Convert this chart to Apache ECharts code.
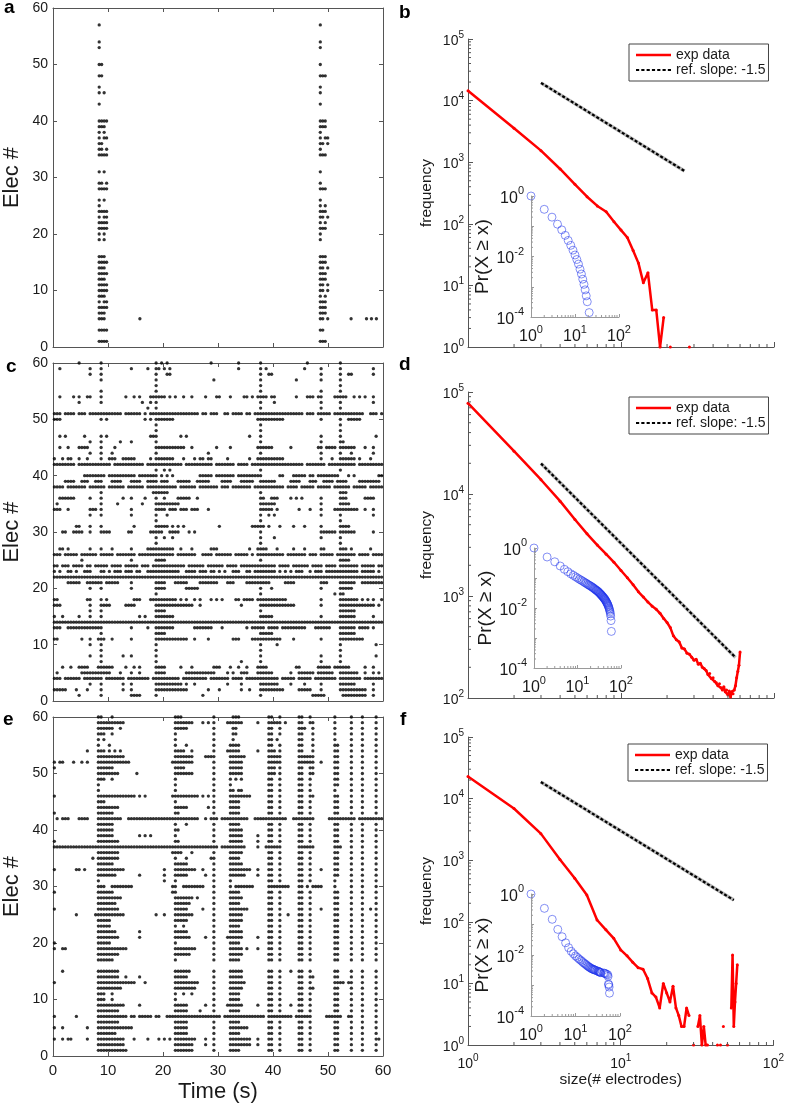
<!DOCTYPE html>
<html><head><meta charset="utf-8">
<script src="https://cdn.jsdelivr.net/npm/echarts@6/dist/echarts.min.js"></script>
<style>html,body{margin:0;padding:0;background:#fff}#chart{width:787px;height:1108px}</style>
</head><body><div id="chart"></div>
<script>
// ================= DATA =================
const timeTicks = [0, 10, 20, 30, 40, 50, 60];
const rasterBinSec = 0.5; // each character of a raster row = one 0.5 s bin (120 bins = 60 s)

// Panel a: two bursts; each row gives which of the 4 burst spike slots fire
const rasterABurstTimes = [[8.4, 8.85, 9.3, 9.75], [48.6, 49.05, 49.5, 49.95]];
const rasterARows = [
  [57,'#...','#...'],[54,'#...','#...'],[53,'#...','#...'],[50,'##..','#...'],[48,'##..','###.'],
  [46,'#...','#...'],[45,'#.#.','#...'],[43,'#...','#...'],[40,'####','###.'],[39,'###.','###.'],
  [38,'#.#.','#...'],[37,'#.##','#.##'],[36,'##..','##.#'],[35,'##.#','#...'],[34,'####','###.'],
  [31,'#.#.','#...'],[29,'##.#','#...'],[28,'####','###.'],[26,'#.#.','#...'],[25,'#...','#.#.'],
  [24,'####','###.'],[23,'#.##','##.#'],[22,'####','#.#.'],[21,'####','###.'],[20,'#.#.','#...'],
  [19,'#.#.','#...'],[16,'###.','###.'],[15,'####','###.'],[14,'###.','##.#'],[13,'####','###.'],
  [12,'###.','###.'],[11,'####','##.#'],[10,'####','##.#'],[9,'###.','#.#.'],[8,'#.##','###.'],
  [7,'####','###.'],[6,'###.','###.'],[5,'###.','##.#'],[3,'####','##..'],[1,'####','###.']
];
const rasterAExtra = [[15.8,5],[54.2,5],[57.0,5],[57.9,5],[58.8,5]];

// Panel c: rows from electrode 60 (first) down to electrode 1 (last)
const rasterC = [
".........# .......#.. .......... .......#.# .#........ .......#.. .......#.. .....#.... .......... ..#....... ....#..... ..........",
"..#....... ...#...#.. ........#. ....#..##. #.#....... .......... .......#.. .....#.#.. .......... .#.....#.. ....#..... ......#...",
".......... ...#...#.. .......... .......#.. .##....... .......... .......... .....#..## .......... .......#.. ....#..##. ......#...",
".......... .......#.. .......... .......#.. .......... ........#. .......... .....#.... ........#. .......#.. ....#..... ..........",
".......... .......... .......... .......#.. .......... .......... .......... .....#.... .......... .......... ....#..... ..........",
".......... .......#.. .......... .......#.. .......... .......... .......... .....#.... .......... .......#.. ....#..... ..........",
"..#....#.# ..##...#.. ......#..# .#...##### #.#.#..#.. #....#...# #...#....# #.#.####.# #.......#. ..###.##.. ..#####..# .#.#..#...",
".........# .......#.. .......... ..#..#.#.. .......... .......... .......... .....#.... #......... .......#.. ....#..... ......#...",
".......... .......... .......... ....#..#.. .......... .......... .......... .....#.... .......... .......#.. ....#..... ..........",
"###.####.# ##.####### #####.#### ##.#.##### ########## ###.##.### ..##.####. ##.####### ########## #.###.#### #.######## ###..###.#",
"###....... .......#.# .......... ...#.#.### ####...... .......... .......... ....###### ####...... .......#.. ....#..### ##........",
".......... .......... .......... .......#.. .......... .......... .......... .....#.... .......... .......... ....#..... ..........",
".......... .......... .......... .......#.. .......... .......... .......... .....#.... .......... .......... ....#..... ..........",
"..#.#..... .#.....#.# .......... .....###.. ......#.#. .......... .......... .#...#.... .......... .......#.. ....#..... .......#..",
".......... ...#...#.. ....#...#. .......#.. .......... .......... .......... .....#.... .......... .......#.. ....##.... ..........",
"..#..#...# ###....#.. ..#....... .......### ########.. #........# ....#..... ....###### ......#... ......##.# ###.###### ...#..#...",
".......... ...#...#.. .#........ .......#.. .......... ......#... .......... .....#.... .......... .......#.. ....#...#. ......#...",
"#..#.##..# ..#....#.. ###..##### .....#.### ####...#.. .#.##.##.. ...#...... .#..###### ####...... .......#.. .#..###### .#...#....",
"########.# ########## #.######## ###.###### #######.## ########.# ######.### #.######## ########## #.#######. ########## .#########",
".......... .......... .......... .......#.. #.#....... .......... .......... .....#.... .......... .......... ....#..... ..........",
".......... .########. ########## .#######.# .#.#...... ...#####.# ######.### ######.... ..##...### ##.##.#### ####...#.# ........##",
"....####.. ###..###.. .####...## ##..####.# ##...##### ..#####... .####...## ###..##### #.....#### ...###..## ##.####... .########.",
"####.##### ##.######. ######.### ###.###### #####.#### ##.####### .###.##### ##.####### ####.####. #####.#### #.######.# ####.#####",
".......... .......#.. .......... ......#### ##........ .......... .......... .....#.... .......... .......... ....###... ..........",
"..######.. ...#...#.. .....#..#. ...#...#.. #....##### ..#....... .......... .....##..# ##....#.#. #......#.. ....###... ...####...",
".#........ .......#.. ...#...... ..#....### ######.... .......... .......... .....##### #......... .......#.. ....####.. ..........",
"###..#.... ...###.#.. ........#. .......### #.###.###. ###...#... .......... .....##### .#.......# ...#...#.. ..######## #..#..#...",
".......... ...#...#.. ........#. .......#.. .#........ .......... .......... .....#..#. #......... .......#.. ....#..... ......#...",
".......... .......... .......... .......#.. .......... .......... .......... .....#.... .......... .......... ....#..... ..........",
"........## ...#...#.. .........# .......### ##.#.#.#.. .......... #......... ..#####.#. ..#....#.. .#.....#.. ....####.. ..........",
"...##..### #..#...### #......##. .....##### ..####...# .#........ .......... .....#.... .......... .......### ###.###### ......#...",
".......... .......... .......... .......#.. #..#...... .......... .......... .....#.... #......... .......#.. ....#..... ..........",
".......... .......... .......... .......#.. .......... .......... .......... .....#.... .......... .......... ....#..... ..........",
"..##.#.... ...#...#.. .#......#. ....###### ####..#... #......### .......... .#..####.. .#.....#.. .#.....##. ....###.#. .....#....",
"###.#####. ######.### ##.####### .######### ####.##### ##..####.# #####.#### #.#.###### ####.##### ##.###.### ##.####### .####.####",
".......... #......... ........#. .......### #......... .......... .......... .....#.... .......... .......... ....####.. ..........",
"##.###.### #.##.##### .####.#### #.###.#### ########.# #####.#### ##.####.## ########## #.####.### ###.####.# ###.###### #.#####.##",
"#.#..##.#. .###...##. #.###.###. ##..###### ######..## ##.###.##. #.#..###.. ##.####### #.#.#.#.## #..#.###.# ########## #.#####.#.",
"########## ########## ########## ########## ########## ########## ########## ########## ########## ########## ########## ##########",
".....##### ..######.# ####....#. .......### #...#####. ...####### ...###.... #########. ....####.. .......### ....###### ..########",
".......... ...#...#.. ........#. .......### #.......## ###....... .......... .....#...# .......... .......#.. ....#####. ..........",
".......... .......... .......... .......#.. .......... .......... .......... .....#.... .......... .......... ..#.##.... ..........",
"##........ ..##...#.# .........# ##...##### #####.#.#. .#.#...#.# .#....##.# ###.###### #####..... .......#.. ....###### #.#.#.#..#",
"###....... ...#...### #.....#### .......### ########## #..#...... ........#. .....##### ########.. .......#.. ....###### #######.#.",
".......... ...#...#.. .......... .......### #......... .......... .......... .....#.... .......... .......... ....###### ..........",
"#..#.....# ...#...#.. .......... .#.#...### ####...... .......... .......... .....##### .......... .......#.. ....###### ......#...",
"########## ########## ########## ########## ########## ########## ########## ########## ########## ########## ########## ##########",
"###..##### ########.. ........#. ....#..### ####...... .#######.. .#........ #.#####.## ##.####### ##...##### #...###### .####.#...",
".......... .......#.. .......... .......### #......... .......... .......... .....##### .......... .......... ....###### ..........",
"##........ #..#..###. .#......#. .......### #########. .#....#... .....###.. ..######## ###....#.. .......#.. ....###### ###.......",
".......... ...#...#.. .......... .......#.. .......... .......... .......... .....#.... .#........ .......... ....#..... .......#..",
".......... .......#.. .......... .......#.. .......... .......... .......... .....#.... .......... .......... ....#..... ..........",
".......... ...#...#.. .....#..#. .......#.. .......... .......... .......... .....#.... .......... .......#.. ....#..... .......#..",
".......... .......#.. .......... .......#.. .......... .......... ........#. .....#.... .......... .......#.. ....#..... ..........",
"...#..#..# ###...#### ##....#..# .#.....### #.....#... #.......## #...#..#.. #...####.. ........## ......#### #.######.. ...#..#...",
".#........ ########## #...#...#. .#.....### #.......## #########. ...#.#..## #...###### ......#..# #####.#### ##..###### #..#..#.#.",
"###.###### .#######.# ######.### #####.#### ######.### ######.### ####.####. ########## ##.#####.# ####.##### ###.###### ##.#######",
".......... ...#...#.. .....#..#. .......### #######.#. .#........ ...#....#. .....##### ##....#... .#.....#.. ....###### ......#...",
"#####...#. ..#....#.. .....#..#. .......### #########. ......#... #.......#. .#...##### ####.....# ####...#.. ....###### ####..#...",
".........# .......#.. ........## ##.....#.. .......... ....#..... .......... .....#.... .......... ....#####. .....##### ####..#..."
];

// Panel e: rows from electrode 60 (first) down to electrode 1 (last)
const rasterE = [
".......... ......##.. .#........ .......... ....###... ........#. .....###.. ........## ..#......# #..#...... ..#.....#. ..#....#..",
".......... ......#### ######.... .......... ....###### #...#.#.#. ...######. ....#...## ###.#....# #..##..... ..#.....#. ..#....#..",
".......... ......#### ##..#..... .......... ....#####. ........#. .....##... ........## ..#......# ##..#..... ..#.....#. ..#....#..",
".......... ......###. .#........ .......... ....#..... ........#. .....##... ........## ..#......# #...#..... ..#.....#. ..#....#..",
".......... ......#.#. .......... .......... ....#..... ........#. .....#.... ........## .#.......# #...#..... ..#.....#. ..#....#..",
".......... ......#... #......... .......... ....#...#. ........#. ....####.. ........## ..#......# #...#..... ..##....#. ..#....#..",
".......... ..#...###. #.#.#..... .......... ....####.. #.......#. ...#####.. ....#...## #.#......# #...#..... ..##....#. ..#....#..",
".......... ......#### ######.... .......... ....###### #....####. ....###### ........## ###......# #####..... ..##....#. ..#....#..",
"#.##...#.. #.#...#### ########.. .......... ...####### #.......#. ....#####. ........## ###......# #####..#.. ..##....#. ..#....#..",
"#......... ......#### ##........ .......... ....####.. ........#. ....#####. ........## #.#......# #..##..... ..##....#. ..#....#..",
".......... ......#### ####...... #......... ....###### #.......#. ....#####. ........## #.#......# #..##..... ..##....#. ..#....#..",
".......... ......###. .#........ .......... ....#..... ........#. ....#.#.#. ........## ..#......# #..#...... ..##....#. ..#....#..",
".......... ......#... .......... .......... ....#..... ........#. ....#..... ........## ..#......# #..#...... ..##....#. ..#....#..",
".......... ......#... .......... .......... ....#..... ........#. ....##.##. ........## ..#......# #..#...... ..#.....#. ..#....#..",
"#......... ......#### ########## .#.#...... ...####### ###.#.#.#. ....###### ##......## ..#......# #..##..... ..##....#. ..#....#..",
".......... ......###. .......... .......... ....#..... ........#. ....####.. ........## ..#......# #..#...... ..##....#. ..#....#..",
".......... ......#### ####...... .......... ....#####. ......#.#. ....####.. ........## ..#......# #..#...... ..##....#. ..#....#..",
"#......... ......#### ##........ .......... ....##.... ........#. ....####.. ........## ..#......# #..#...... ..##....#. ..#....#..",
".#.###...# ###...#### #####..### ########## ########## ###..#.### .######### #..####### #####..### #####..... ########## .#########",
".......... ......#### ##........ .......... ....#...#. ........#. ....####.. ........## ..#......# #..#...... ..##....#. ..#....#..",
".......... ......#### ##........ .......... ....##.... ........#. ....#####. ........## ..#......# #..#...... ..##....#. ..#....#..",
".......... ......#### ##........ .#.#.#.... ....#..... ........#. ....#####. ....#...## ..#......# #..#...... ..##....#. ..#....#..",
"#......... ......#### ####...... .......... ....##.... ........#. ....#####. ....#...## ..#......# #..#...... ..##....#. ..#....#..",
"########## ########## ########## ########## ########## ########## .######### ....#..### ###......# #####..... ..###...#. ..#....#..",
".......... ......#### ####...... .......... ...####... #.......#. ....#####. ........## ..#......# #..#...... ..##....#. ..#....#..",
".......... ....#.#### ####...... .......... ....#...#. .......##. ....####.. ........## ..#......# #..#...... ..##....#. ..#....#..",
".......... ......#### ##........ .......... ....#####. ........#. ....#####. ........## ..#......# #..#...... ..##....#. ..#....#..",
"#.......## .#....#### ######.... .......... #...###### ##..#...#. ....###### ##..#...## ..#......# #..#...#.. ..##....#. ..#....#..",
".......... ......#### ###....... .#........ #...#####. .....#..#. ....###### ....#...## ..#......# #..#...... ..##....#. ..#....#..",
".......... ......#... .......... .......... #...#..... ........#. ....#..... ........## ..#......# #..#...... ..#.....#. ..#....#..",
".......... ......###. .########. .......... ...##..### #####...#. ....#.#### ###.....## ######...# #.#.####.. ..#.....#. ..#....#..",
"#......... ......#### ##........ .......... ...##..... ........#. ....####.. ........## ..#......# #..#...... ..##....#. ..#....#..",
".......... ......#### #####..... .......... ....###### #.#.....#. ....#####. ........## ..#......# #..#...... ..##....#. ..#....#..",
".......... ......#### ###....... .......... ....###### ........#. ....####.. ........## ..#......# #..#...... ..##....#. ..#....#..",
"#......... ......#### ####...... .......... ....#####. ....#...#. ....###### #.......## ..#......# #..#...#.. ..##....#. ..#..#.#..",
"........#. .....##### ######.... .......#.. #...###### #.......#. ....#####. ........## ..#..#...# #..#...... ..##....#. ..#....#..",
".......... ......#### #......... .......... ....#####. ........#. ....#####. ........## ..#......# #..#...... ..##....#. ..#....#..",
".......... ......#### #......... .......... ....#..#.. ........#. ....####.. ........## ..#......# #..#...... ..##....#. ..#....#..",
".......... ......#### ###....... .#........ ....#####. ........#. ....#####. ........## ..#......# #..#...... ..##....#. ..#....#..",
".......... ......#### ####...... .#........ ....###### .....#..#. ...######. ....#...## ..#......# #..#...... ..##....#. ..#....#..",
"#......... ......#### #......... .......... ....#..... ........#. ....####.. ........## ..#......# #..#...... ..##....#. ..#....#..",
"#..##..... ......#### #######... .......... ....###### ##......#. ....#####. #...#...## ..#......# #..#...... ..##....#. ..#....#..",
".......... ......#### ####...... .......... ....###### ........#. ....#####. ........## ..#......# #..#...... ..##....#. ..#....#..",
".......... ......#### ##........ .......... ....#..... ........#. ....####.. ........## ..#......# #..#...... ..##....#. ..#....#..",
".......... .......... .......... .......... .......... .......... .......... .......... .......... .......... .......... ..........",
"...#...... ......#### ####...... .......... ....###### ........#. ....#####. ........## ..#...#..# #..#...... ..##....#. ..#....#..",
".......... ......#### ####..#... .#........ ....#####. ........#. ....#####. ........## ..#......# #..##..... ..##....#. ..#....#..",
"#......... ......#### ########## ...#...... ....###### ###.....#. ....###### ........## ..#......# #..#...... ..####.##. ..#....#..",
".......... ......#### #####..... .......... ....###### ##......#. ....#####. ........## ..#......# #..##..... ..##....#. ..#....#..",
".......... ......###. .#........ .......... ....#..#.. #.......#. ....####.. ........## ..#......# #..#...... ..##....#. ..#....#..",
".......... ......###. .#........ .......... ....#..... ........#. ....####.. ........## ..#......# #..#...... ..##....#. ..#....#..",
".......... ......#### ######.... .#........ ....#####. .....#..#. ...######. ....#...## ..#...#..# #..#...... ..##....#. ..#....#..",
".......... ......#### ####...... .......... ....#####. ...#....#. ....####.. ........## ..#......# #..#...... ..##....#. ..#....#..",
"#.......#. ......#### #######.## .#####.##. .######### ########## #.######## #######.## #######.## ####.....# #####..##. ..#....#..",
".......... ......#### ####...... .......... ....#####. ........#. ....####.. ........## ..#......# #..#...... ..##....#. ..#....#..",
"#..#...... ..#...#### #########. .......... ....#####. ........#. ....###### #.......## ..#......# #..#...... ..##....#. ..#....#..",
".......... ......#### ###....... .......... ....#####. ........#. ....####.. ........## ..#......# #..#...... ..##....#. ..#....#..",
"#..#.##... ..#...#### ######...# ....#...#. #.#.###### ##...#..#. ....###### ##..#...## ..#......# #..#...... ..##....#. ..#....##.",
".......... ......#### ######.... .......... ....###### #....#..#. ....###### ##..#...## ..#......# #..#...... ..##....#. ..#....#..",
".......... ......#### #######... .......... ....###### #.......#. ....####.. ........## ..#......# #..#...... ..##....#. ..#....#.."
];

// Avalanche size distributions (size = # electrodes, frequency = count); null = zero count
const sizeB = [1,2,3,4,5,6,7,8,9,10,11,12,13,14,15,16,17,18,19,20,21,22,23,24,25,26,27,28];
const freqB = [14500,3550,1540,776,437,275,195,157,108,79,60,37,23,11,16,4,4,1,3,null,1,null,null,null,null,null,null,1];

const sizeD = [1,2,3,4,5,6,7,8,9,10,11,12,13,14,15,16,17,18,19,20,21,22,23,24,25,26,27,28,29,30,
               31,32,33,34,35,36,37,38,39,40,41,42,43,44,45,46,47,48,49,50,51,52,53,54,55,56,57,58,59,60];
const freqD = [77600,26300,13800,8510,5620,4070,3160,2570,2140,1780,1510,1290,1100,977,871,794,741,676,603,550,
               490,407,372,355,309,302,275,269,251,234,240,214,219,200,195,186,170,174,155,158,
               145,141,132,138,126,120,129,115,120,107,117,102,115,110,120,132,158,182,209,282];

const sizeF = [1,2,3,4,5,6,7,8,9,10,11,12,13,14,15,16,17,18,19,20,21,22,23,24,25,26,27,28,29,30,
               31,32,33,34,35,36,37,38,39,40,41,42,43,44,45,46,47,48,49,50,51,52,53,54,55,56,57,58];
const freqF = [22800,6900,2700,1030,510,273,107,74,54,35,28,22,18,17,12,7,6,4,10,7,
               5,9,4,3,2,2,4,3,null,1,null,2,3,1,2,1,1,null,null,null,
               null,null,1,null,1,null,2,null,null,1,null,null,4,29,2,5,10,20];

// Reference power-law lines (slope -1.5), end points
const refB = [[3, 19400], [26, 720]];
const refD = [[3, 19900], [56, 250]];
const refF = [[3, 18600], [55, 225]];

// Inset CCDF: Pr(X >= x)
const ccdfSizeB = [1,2,3,4,5,6,7,8,9,10,11,12,13,14,15,16,17,18,19,21];
const ccdfProbB = [1,0.363,0.200,0.117,0.0759,0.0501,0.0339,0.0234,0.0162,0.0112,0.00794,0.00562,0.00380,0.00263,0.00178,0.00120,0.00079,0.00050,0.00032,0.00014];

const ccdfSizeD = sizeD;
const ccdfProbD = [1,0.501,0.347,0.251,0.195,0.162,0.138,0.123,0.110,0.100,0.0912,0.0851,0.0794,0.0741,0.0692,0.0661,0.0617,0.0589,0.0562,0.0537,
                   0.0513,0.0490,0.0468,0.0447,0.0427,0.0407,0.0389,0.0380,0.0363,0.0347,0.0331,0.0316,0.0302,0.0288,0.0275,0.0263,0.0251,0.0240,0.0229,0.0219,
                   0.0209,0.0200,0.0191,0.0182,0.0170,0.0162,0.0151,0.0145,0.0135,0.0126,0.0117,0.0110,0.0100,0.00912,0.00832,0.00741,0.00646,0.00537,0.00380,0.00166];

const ccdfSizeF = [1,2,3,4,5,6,7,8,9,10,11,12,13,14,15,16,17,18,19,20,21,22,23,24,25,26,27,28,30,32,33,34,35,36,37,43,45,47,50,53,54,55,56,57,58];
const ccdfProbF = [1,0.339,0.148,0.0692,0.0398,0.0251,0.0174,0.0132,0.0110,0.00933,0.00832,0.00741,0.00676,0.00617,0.00562,0.00525,0.00490,0.00457,0.00427,0.00407,
                   0.00389,0.00372,0.00355,0.00347,0.00339,0.00331,0.00324,0.00316,0.00302,0.00295,0.00288,0.00282,0.00275,0.00269,0.00263,0.00257,0.00251,0.00245,0.00234,0.00224,
                   0.00200,0.00112,0.00105,0.00089,0.00056];

// ================= BUILD =================
const FONT = '"Liberation Sans", Arial, Helvetica, sans-serif';
const DARK = '#1a1a1a';
const AX = '#555';
const INSET_AX = '#9a9a9a';

function rasterPoints(rows) {
  const pts = [];
  rows.forEach(function (row, i) {
    const elec = 60 - i;
    const s = row.replace(/\s+/g, '');
    for (let b = 0; b < s.length; b++) if (s[b] === '#') pts.push([(b + 0.5) * rasterBinSec, elec]);
  });
  return pts;
}
function rasterAPoints() {
  const pts = [];
  rasterARows.forEach(function (r) {
    for (let k = 0; k < 2; k++) {
      const pat = r[k + 1];
      for (let i = 0; i < pat.length; i++) if (pat[i] === '#') pts.push([rasterABurstTimes[k][i], r[0]]);
    }
  });
  rasterAExtra.forEach(function (p) { pts.push([p[0], p[1]]); });
  return pts;
}
function pairs(xs, ys) { return xs.map(function (x, i) { return [x, ys[i]]; }); }

function powFmt(v) { const e = Math.round(Math.log10(v)); return '{b|10}{s|' + e + '}'; }
function powFmtEven(v) { const e = Math.round(Math.log10(v)); return (e % 2 === 0) ? powFmt(v) : ''; }
const richMain = {
  b: {fontSize: 14, lineHeight: 18, verticalAlign: 'bottom', color: DARK, fontFamily: FONT},
  s: {fontSize: 10, lineHeight: 10, verticalAlign: 'top', color: DARK, fontFamily: FONT}
};
const richInset = {
  b: {fontSize: 16, lineHeight: 21, verticalAlign: 'bottom', color: DARK, fontFamily: FONT},
  s: {fontSize: 11, lineHeight: 11, verticalAlign: 'top', color: DARK, fontFamily: FONT}
};

function minorVals(lo, hi) {
  const v = [];
  for (let e = lo; e < hi; e++) for (let k = 2; k <= 9; k++) v.push(k * Math.pow(10, e));
  return v;
}
function tickSeries(xi, yi, xMin, yMin, xExp, yExp, len, color) {
  const data = [];
  minorVals(xExp[0], xExp[1]).forEach(function (v) { data.push([v, yMin, 0]); });
  minorVals(yExp[0], yExp[1]).forEach(function (v) { data.push([xMin, v, 1]); });
  return {
    type: 'custom', xAxisIndex: xi, yAxisIndex: yi, silent: true, clip: false, z: 5,
    encode: {x: 0, y: 1},
    renderItem: function (params, api) {
      const p = api.coord([api.value(0), api.value(1)]);
      const horiz = api.value(2) === 1;
      return {type: 'line',
        shape: horiz ? {x1: p[0], y1: p[1], x2: p[0] + len, y2: p[1]} : {x1: p[0], y1: p[1], x2: p[0], y2: p[1] - len},
        style: {stroke: color, lineWidth: 1}};
    },
    data: data
  };
}

const grids = [
  {left: 53, top: 8, width: 330, height: 339},    // 0 a
  {left: 53, top: 363, width: 330, height: 338},  // 1 c
  {left: 53, top: 717, width: 330, height: 339},  // 2 e
  {left: 468, top: 39, width: 306, height: 308},  // 3 b
  {left: 531, top: 196, width: 88, height: 121},  // 4 b inset
  {left: 468, top: 392, width: 306, height: 306}, // 5 d
  {left: 534, top: 548, width: 87, height: 120},  // 6 d inset
  {left: 468, top: 737, width: 306, height: 308}, // 7 f
  {left: 531, top: 894, width: 89, height: 122}   // 8 f inset
].map(function (g) { return Object.assign({show: false}, g); });

const xAxes = [], yAxes = [];
function rasterAxes(g, showX) {
  const common = {type: 'value', gridIndex: g, min: timeTicks[0], max: timeTicks[timeTicks.length - 1], interval: 10,
    axisLine: {show: true, onZero: false, lineStyle: {color: AX, width: 1}},
    axisTick: {show: true, inside: true, length: 4, lineStyle: {color: AX}},
    splitLine: {show: false}};
  xAxes.push(Object.assign({}, common, {position: 'bottom',
    axisLabel: {show: showX, margin: 7, fontSize: 15, color: DARK, fontFamily: FONT},
    name: showX ? 'Time (s)' : '', nameLocation: 'middle', nameGap: 25,
    nameTextStyle: {fontSize: 22, color: DARK, fontFamily: FONT}}));
  xAxes.push(Object.assign({}, common, {position: 'top', axisLabel: {show: false}}));
  yAxes.push(Object.assign({}, common, {position: 'left',
    axisLabel: {show: true, margin: 5, fontSize: 14, color: DARK, fontFamily: FONT},
    name: 'Elec #', nameLocation: 'middle', nameGap: 30,
    nameTextStyle: {fontSize: 22, color: DARK, fontFamily: FONT}}));
  yAxes.push(Object.assign({}, common, {position: 'right', axisLabel: {show: false}}));
}
function logMain(g, yMin, showX) {
  xAxes.push({type: 'log', logBase: 10, gridIndex: g, min: 1, max: 100, position: 'bottom',
    axisLine: {show: true, onZero: false, lineStyle: {color: AX}},
    axisTick: {show: true, inside: true, length: 5, lineStyle: {color: AX}},
    axisLabel: {show: showX, margin: 8, formatter: powFmt, rich: richMain},
    splitLine: {show: false},
    name: showX ? 'size(# electrodes)' : '', nameLocation: 'middle', nameGap: 27,
    nameTextStyle: {fontSize: 15.5, color: DARK, fontFamily: FONT}});
  yAxes.push({type: 'log', logBase: 10, gridIndex: g, min: yMin, max: 1e5, position: 'left',
    axisLine: {show: true, onZero: false, lineStyle: {color: AX}},
    axisTick: {show: true, inside: true, length: 5, lineStyle: {color: AX}},
    axisLabel: {show: true, margin: 4, formatter: powFmt, rich: richMain},
    splitLine: {show: false},
    name: 'frequency', nameLocation: 'middle', nameGap: 33,
    nameTextStyle: {fontSize: 15.5, color: DARK, fontFamily: FONT}});
}
function logInset(g) {
  xAxes.push({type: 'log', logBase: 10, gridIndex: g, min: 1, max: 100, position: 'bottom',
    axisLine: {show: true, onZero: false, lineStyle: {color: INSET_AX}},
    axisTick: {show: true, inside: true, length: 3, lineStyle: {color: INSET_AX}},
    axisLabel: {show: true, margin: 7, formatter: powFmt, rich: richInset},
    splitLine: {show: false}});
  yAxes.push({type: 'log', logBase: 10, gridIndex: g, min: 1e-4, max: 1, position: 'left',
    axisLine: {show: true, onZero: false, lineStyle: {color: INSET_AX}},
    axisTick: {show: true, inside: true, length: 3, lineStyle: {color: INSET_AX}},
    axisLabel: {show: true, margin: 7, formatter: powFmtEven, rich: richInset},
    splitLine: {show: false},
    name: 'Pr(X \u2265 x)', nameLocation: 'middle', nameGap: 38,
    nameTextStyle: {fontSize: 19, color: DARK, fontFamily: FONT}});
}
rasterAxes(0, false); rasterAxes(1, false); rasterAxes(2, true);
logMain(3, 1, false); logInset(4);
logMain(5, 100, false); logInset(6);
logMain(7, 1, true); logInset(8);
// axis indices: raster a: x0/y0, c: x2/y2, e: x4/y4; b: 6, b inset 7, d: 8, d inset 9, f: 10, f inset 11

const series = [];
function rasterSeries(idx, pts) {
  series.push({type: 'scatter', xAxisIndex: idx, yAxisIndex: idx, data: pts, symbol: 'circle', symbolSize: 3.3,
    itemStyle: {color: '#000'}, silent: true, progressive: 0, large: false});
}
rasterSeries(0, rasterAPoints());
rasterSeries(2, rasterPoints(rasterC));
rasterSeries(4, rasterPoints(rasterE));

function sizePanel(ax, inAx, sizes, freqs, ref, cs, cp, yMinExp) {
  series.push({type: 'line', name: '_refbg', xAxisIndex: ax, yAxisIndex: ax, data: ref, symbol: 'none',
    lineStyle: {color: '#b8b8b8', width: 3.5}, itemStyle: {color: '#b8b8b8'}, silent: true, z: 2});
  series.push({type: 'line', name: 'exp data', xAxisIndex: ax, yAxisIndex: ax, data: pairs(sizes, freqs),
    connectNulls: false, symbol: 'circle', symbolSize: 3, showSymbol: true, showAllSymbol: true,
    lineStyle: {color: '#ff0000', width: 2.5}, itemStyle: {color: '#ff0000'}, z: 3});
  series.push({type: 'line', name: 'ref. slope: -1.5', xAxisIndex: ax, yAxisIndex: ax, data: ref, symbol: 'none',
    lineStyle: {color: '#000', width: 2.2, type: [3, 2]}, itemStyle: {color: '#000'}, z: 4});
  series.push({type: 'scatter', xAxisIndex: inAx, yAxisIndex: inAx, data: pairs(cs, cp), symbol: 'circle', symbolSize: 8,
    itemStyle: {color: 'rgba(0,0,0,0)', borderColor: 'rgba(30,50,235,0.68)', borderWidth: 1}, z: 4, silent: true});
  series.push(tickSeries(ax, ax, 1, Math.pow(10, yMinExp), [0, 2], [yMinExp, 5], 3, AX));
  series.push(tickSeries(inAx, inAx, 1, 1e-4, [0, 2], [-4, 0], 2, INSET_AX));
}
sizePanel(6, 7, sizeB, freqB, refB, ccdfSizeB, ccdfProbB, 0);
sizePanel(8, 9, sizeD, freqD, refD, ccdfSizeD, ccdfProbD, 2);
sizePanel(10, 11, sizeF, freqF, refF, ccdfSizeF, ccdfProbF, 0);

const dashIcon = 'path://M0,0h3v2h-3z M5,0h3v2h-3z M10,0h3v2h-3z M15,0h3v2h-3z M20,0h3v2h-3z M25,0h3v2h-3z M30,0h3v2h-3z';
function legendAt(left, top) {
  return {left: left, top: top, orient: 'vertical',
    data: [{name: 'exp data', icon: 'rect'}, {name: 'ref. slope: -1.5', icon: dashIcon}],
    itemWidth: 35, itemHeight: 2.5, itemGap: 1, padding: [4, 3, 4, 7],
    borderColor: '#444', borderWidth: 1, backgroundColor: '#fff', selectedMode: false,
    textStyle: {fontSize: 14, color: DARK, fontFamily: FONT}};
}

function letter(t, left, top) {
  return {type: 'text', left: left, top: top, silent: true,
    style: {text: t, font: 'bold 19px ' + FONT, fill: '#000'}};
}

const option = {
  animation: false,
  backgroundColor: '#fff',
  textStyle: {fontFamily: FONT},
  grid: grids,
  xAxis: xAxes,
  yAxis: yAxes,
  legend: [legendAt(629, 44), legendAt(629, 397), legendAt(628, 744)],
  series: series,
  graphic: [letter('a', 4, -2), letter('b', 399, 3), letter('c', 6, 357), letter('d', 399, 355), letter('e', 3, 710), letter('f', 400, 710)]
};
const chart = echarts.init(document.getElementById('chart'), null, {renderer: 'canvas'});
chart.setOption(option);
</script>
</body></html>
